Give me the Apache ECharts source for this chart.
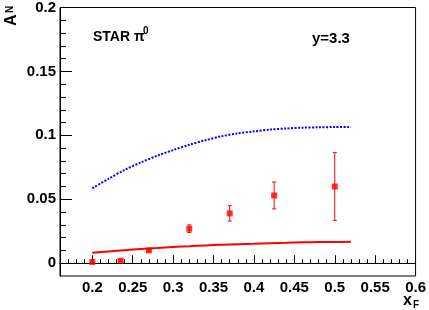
<!DOCTYPE html>
<html>
<head>
<meta charset="utf-8">
<script src="https://cdn.jsdelivr.net/npm/echarts@6/dist/echarts.min.js"></script>
<style>html,body{margin:0;padding:0;background:#fff}#c{width:429px;height:310px}</style>
</head>
<body>
<div id="c"></div>
<script>
// ---- data ----
const pointX = [0.2, 0.235, 0.27, 0.32, 0.37, 0.425, 0.5];
const pointY = [0.001, 0.002, 0.010, 0.027, 0.039, 0.053, 0.060];
const pointErr = [0.0008, 0.0008, 0.0008, 0.003, 0.006, 0.0105, 0.0265];

const curveX = [0.2, 0.22, 0.24, 0.26, 0.28, 0.30, 0.32, 0.34, 0.36, 0.38, 0.40, 0.42, 0.44, 0.46, 0.48, 0.50, 0.52];
const blueCurve = [0.0586, 0.0660, 0.0730, 0.0788, 0.0840, 0.0885, 0.0926, 0.0962, 0.0993, 0.1015, 0.1031, 0.1045, 0.1054, 0.1060, 0.1063, 0.1065, 0.1066];
const redCurve = [0.0082, 0.0092, 0.0102, 0.0111, 0.0119, 0.0127, 0.0133, 0.0139, 0.0144, 0.0149, 0.0153, 0.0157, 0.0160, 0.0163, 0.0165, 0.0166, 0.0168];

const xMajor = [0.2, 0.25, 0.3, 0.35, 0.4, 0.45, 0.5, 0.55, 0.6];
const xMinor = [0.17, 0.18, 0.19, 0.21, 0.22, 0.23, 0.24, 0.26, 0.27, 0.28, 0.29, 0.31, 0.32, 0.33, 0.34, 0.36, 0.37, 0.38, 0.39, 0.41, 0.42, 0.43, 0.44, 0.46, 0.47, 0.48, 0.49, 0.51, 0.52, 0.53, 0.54, 0.56, 0.57, 0.58, 0.59];
const yMajor = [0, 0.05, 0.1, 0.15, 0.2];
const yMinor = [0.01, 0.02, 0.03, 0.04, 0.06, 0.07, 0.08, 0.09, 0.11, 0.12, 0.13, 0.14, 0.16, 0.17, 0.18, 0.19];

const FONT = '"Liberation Sans", Arial, Helvetica, sans-serif';
const chart = echarts.init(document.getElementById('c'), null, {renderer: 'canvas'});

const lbl = {color: '#000', fontFamily: FONT, fontWeight: 'bold', fontSize: 15};

const option = {
  animation: false,
  backgroundColor: '#fff',
  grid: {left: 60, right: 11, top: 5, bottom: 34, show: true, borderColor: '#000', borderWidth: 1, backgroundColor: 'transparent'},
  xAxis: [
    {type: 'value', min: 0.16, max: 0.6, position: 'bottom',
     axisLine: {show: true, lineStyle: {color: '#000', width: 1}},
     axisTick: {show: true, inside: true, length: 8, customValues: xMajor, lineStyle: {color: '#000'}},
     axisLabel: Object.assign({customValues: xMajor, margin: 4, formatter: v => String(v)}, lbl),
     splitLine: {show: false}},
    {type: 'value', min: 0.16, max: 0.6, position: 'bottom',
     axisLine: {show: false},
     axisTick: {show: true, inside: true, length: 4, customValues: xMinor, lineStyle: {color: '#000'}},
     axisLabel: {show: false},
     splitLine: {show: false}}
  ],
  yAxis: [
    {type: 'value', min: -0.01, max: 0.2, position: 'left',
     axisLine: {show: true, lineStyle: {color: '#000', width: 1}},
     axisTick: {show: true, inside: true, length: 12, customValues: yMajor, lineStyle: {color: '#000'}},
     axisLabel: Object.assign({customValues: yMajor, margin: 4, formatter: v => String(v)}, lbl),
     splitLine: {show: false}},
    {type: 'value', min: -0.01, max: 0.2, position: 'left',
     axisLine: {show: false},
     axisTick: {show: true, inside: true, length: 6, customValues: yMinor, lineStyle: {color: '#000'}},
     axisLabel: {show: false},
     splitLine: {show: false}}
  ],
  series: [
    {type: 'line', xAxisIndex: 0, yAxisIndex: 0, data: curveX.map((x, i) => [x, blueCurve[i]]),
     showSymbol: false, smooth: 0.3, lineStyle: {color: '#0000ff', width: 2, type: [2, 1.5]}},
    {type: 'line', xAxisIndex: 0, yAxisIndex: 0, data: curveX.map((x, i) => [x, redCurve[i]]),
     showSymbol: false, smooth: 0.3, lineStyle: {color: '#ff0000', width: 2}},
    {type: 'custom', xAxisIndex: 0, yAxisIndex: 0,
     data: pointX.map((x, i) => [x, pointY[i], pointErr[i]]),
     renderItem: function (params, api) {
       const x = api.value(0), y = api.value(1), e = api.value(2);
       const t = api.coord([x, y + e]);
       const b = api.coord([x, y - e]);
       const st = {stroke: '#ff0000', lineWidth: 1};
       return {type: 'group', children: [
         {type: 'line', shape: {x1: t[0], y1: t[1], x2: b[0], y2: b[1]}, style: st},
         {type: 'line', shape: {x1: t[0] - 2, y1: t[1], x2: t[0] + 2, y2: t[1]}, style: st},
         {type: 'line', shape: {x1: b[0] - 2, y1: b[1], x2: b[0] + 2, y2: b[1]}, style: st}
       ]};
     }},
    {type: 'scatter', xAxisIndex: 0, yAxisIndex: 0, data: pointX.map((x, i) => [x, pointY[i]]),
     symbol: 'rect', symbolSize: 6, itemStyle: {color: '#ff0000'}}
  ],
  graphic: [
    {type: 'text', left: 93, top: 30, style: {text: 'STAR π', font: 'bold 14px ' + FONT, fill: '#000'}},
    {type: 'text', left: 143, top: 26, style: {text: '0', font: 'bold 10px ' + FONT, fill: '#000'}},
    {type: 'text', left: 312, top: 31, style: {text: 'y=3.3', font: 'bold 15px ' + FONT, fill: '#000'}},
    {type: 'text', x: 20, y: 26, rotation: Math.PI / 2, style: {text: 'A', font: 'bold 16px ' + FONT, fill: '#000', textAlign: 'left', textVerticalAlign: 'bottom'}},
    {type: 'text', x: 15, y: 13, rotation: Math.PI / 2, style: {text: 'N', font: 'bold 10px ' + FONT, fill: '#000', textAlign: 'left', textVerticalAlign: 'bottom'}},
    {type: 'text', left: 403, top: 293, style: {text: 'x', font: 'bold 16px ' + FONT, fill: '#000'}},
    {type: 'text', left: 413, top: 300, style: {text: 'F', font: 'bold 10px ' + FONT, fill: '#000'}}
  ]
};
chart.setOption(option);
</script>
</body>
</html>
